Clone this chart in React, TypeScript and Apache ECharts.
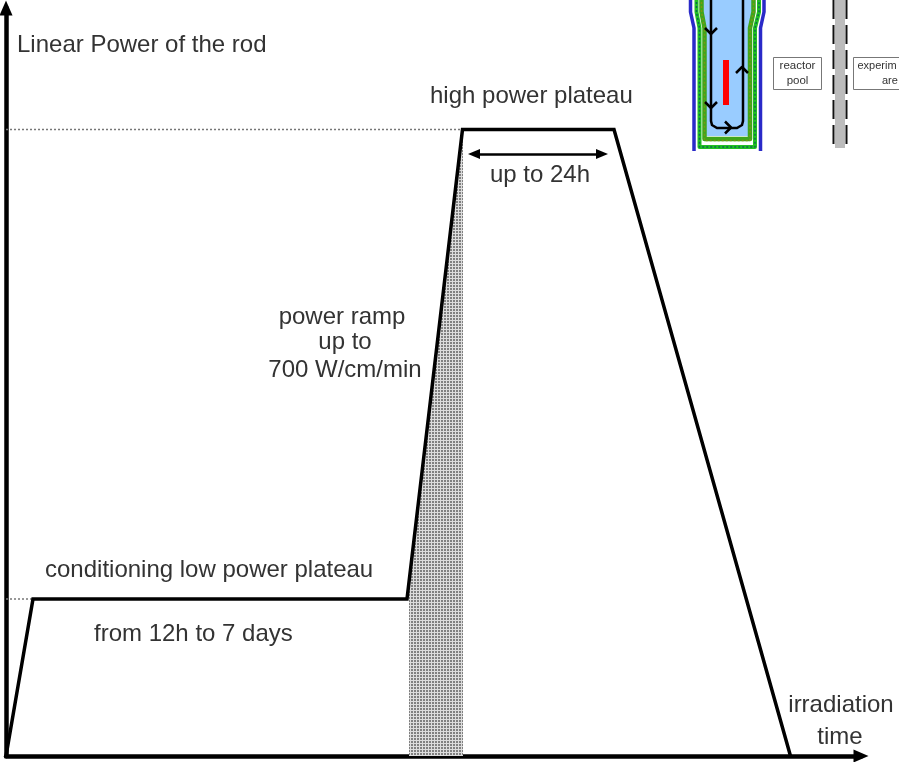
import React, { useEffect, useRef } from "react";
import * as echarts from "echarts";

const profile: [number, number][] = [[0, 0], [27, 157], [401, 157], [456.5, 626.5], [608, 626.5], [784.5, 0]];
const rampShade: [number, number][] = [[403, 0], [403, 174], [457, 626.5]];
const lowGuide: [number, number][] = [[0, 157], [27, 157]];
const highGuide: [number, number][] = [[0, 626.5], [456.5, 626.5]];
const plateauSpan: [number, number] = [468, 596];
const plateauSpanLevel = 602;

const FONT = '"Liberation Sans", Arial, sans-serif';
const TEXT = "#333";

function label(text: string, x: number, y: number, align = "left", size = 24) {
  return {
    type: "text",
    z: 20,
    style: { text, x, y, fill: TEXT, font: `${size}px ${FONT}`, textAlign: align, textVerticalAlign: "middle" },
  };
}

function line(points: number[][], stroke: string, lineWidth: number, lineDash?: number[], z = 10) {
  return {
    type: "polyline",
    z,
    shape: { points },
    style: { stroke, lineWidth, fill: "none", lineDash, lineJoin: "round", lineCap: "butt" },
  };
}

function uShape(lt: number, ll: number, bottom: number, rl: number, rt: number) {
  return [[lt, -2], [lt, 12], [ll, 28], [ll, bottom], [rl, bottom], [rl, 28], [rt, 12], [rt, -2]];
}

function chevron(x: number, y: number, dir: "up" | "down" | "right") {
  const s = 6;
  const pts =
    dir === "down" ? [[x - s, y - s], [x, y], [x + s, y - s]] :
    dir === "up" ? [[x - s, y + s], [x, y], [x + s, y + s]] :
    [[x - s, y - s], [x, y], [x - s, y + s]];
  return line(pts, "#000", 2.5, undefined, 14);
}

function insetElements() {
  return [
    { type: "polygon", z: 8, shape: { points: [[702, -2], [702, 12], [706, 28], [706, 136], [749, 136], [749, 28], [752, 12], [752, -2]] }, style: { fill: "#99ccff" } },
    line([[690.5, -2], [690.5, 12], [694, 28], [694, 151]], "#2a2ac8", 3.5),
    line([[764, -2], [764, 12], [760.5, 28], [760.5, 151]], "#2a2ac8", 3.5),
    line(uShape(696.5, 699.5, 147, 755, 759), "#22c022", 4),
    line(uShape(696.5, 699.5, 147, 755, 759), "#0a6a50", 1.5, [2, 2], 11),
    line(uShape(701.5, 704.5, 139, 750, 753.5), "#3fa51c", 4.5),
    line(uShape(701.5, 704.5, 140.5, 750, 753.5), "#7a9a10", 1.5, [2, 2], 11),
    { type: "rect", z: 12, shape: { x: 723, y: 60, width: 6, height: 45 }, style: { fill: "#ff0000" } },
    {
      type: "polyline", z: 13,
      shape: { points: [[711, -2], [711, 121], [712, 125], [717, 128], [737, 128], [742, 125], [743, 121], [743, -2]] },
      style: { stroke: "#000", lineWidth: 2.5, fill: "none" },
    },
    chevron(711, 34, "down"),
    chevron(711, 108, "down"),
    chevron(731, 127.5, "right"),
    chevron(742, 67, "up"),
    { type: "rect", z: 12, shape: { x: 773.5, y: 57.5, width: 48, height: 32 }, style: { fill: "#fff", stroke: "#777", lineWidth: 1 } },
    { type: "rect", z: 12, shape: { x: 853.5, y: 57.5, width: 60, height: 32 }, style: { fill: "#fff", stroke: "#777", lineWidth: 1 } },
    label("reactor", 797.5, 65, "center", 11.5),
    label("pool", 797.5, 80, "center", 11.5),
    label("experim", 857.5, 65, "left", 11),
    label("are", 882, 80, "left", 11),
    { type: "rect", z: 9, shape: { x: 835, y: -2, width: 10, height: 150 }, style: { fill: "#bcbcbc" } },
    line([[833.5, 0], [833.5, 147]], "#111", 2, [19, 6], 11),
    line([[846.5, 0], [846.5, 147]], "#111", 2, [19, 6], 11),
  ];
}

function stipple() {
  const c = document.createElement("canvas");
  c.width = 6;
  c.height = 6;
  const g = c.getContext("2d")!;
  g.fillStyle = "#dcdcdc";
  g.fillRect(0, 0, 6, 6);
  g.fillStyle = "#808080";
  for (const [x, y] of [[0, 0], [3, 0], [0, 3], [3, 3]]) g.fillRect(x, y, 2, 2);
  return c;
}

export default function App() {
  const ref = useRef<HTMLDivElement>(null);
  useEffect(() => {
    document.body.style.margin = "0";
    const chart = echarts.init(ref.current!, undefined, { renderer: "svg" });
    const hiddenAxis = {
      type: "value",
      min: 0,
      splitLine: { show: false },
      axisTick: { show: false },
      axisLabel: { show: false },
    };
    const axisLine = { show: true, symbol: ["none", "triangle"], symbolSize: [13, 15], lineStyle: { color: "#000", width: 4.5 } };
    chart.setOption({
      animation: false,
      backgroundColor: "#fff",
      grid: { left: 6, right: 38, top: 8, bottom: 6 },
      xAxis: { ...hiddenAxis, max: 855, axisLine },
      yAxis: { ...hiddenAxis, max: 748, axisLine },
      series: [
        {
          type: "line",
          data: rampShade,
          symbol: "none",
          silent: true,
          lineStyle: { width: 0 },
          areaStyle: { color: { image: stipple(), repeat: "repeat" }, opacity: 1 },
          z: 1,
        },
        { type: "line", data: lowGuide, symbol: "none", lineStyle: { color: "#777", width: 1.5, type: [2, 2] }, z: 2 },
        { type: "line", data: highGuide, symbol: "none", lineStyle: { color: "#777", width: 1.5, type: [2, 2] }, z: 2 },
        {
          type: "line",
          data: profile,
          symbol: "none",
          lineStyle: { color: "#000", width: 3.5, join: "miter" },
          z: 5,
          markLine: {
            silent: true,
            symbol: ["triangle", "triangle"],
            symbolSize: [10, 12],
            label: { show: false },
            lineStyle: { color: "#000", width: 2.5, type: "solid" },
            data: [[
              { coord: [plateauSpan[0], plateauSpanLevel] },
              { coord: [plateauSpan[1], plateauSpanLevel] },
            ]],
          },
        },
      ],
      graphic: {
        elements: [
          label("Linear Power of the rod", 17, 43),
          label("high power plateau", 430, 94),
          label("up to 24h", 540, 173, "center"),
          label("power ramp", 342, 315, "center"),
          label("up to", 345, 340, "center"),
          label("700 W/cm/min", 345, 368, "center"),
          label("conditioning low power plateau", 45, 568),
          label("from 12h to 7 days", 94, 632),
          label("irradiation", 841, 703, "center"),
          label("time", 840, 735, "center"),
          ...insetElements(),
        ],
      },
    });
    return () => chart.dispose();
  }, []);
  return <div ref={ref} style={{ width: 899, height: 762, filter: "blur(0.5px)" }} />;
}
